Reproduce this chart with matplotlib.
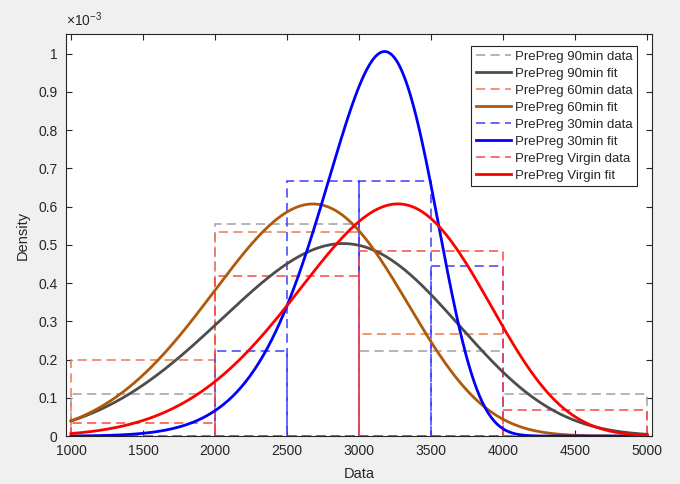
import matplotlib
matplotlib.use("Agg")
import matplotlib.pyplot as plt
import numpy as np
from matplotlib.lines import Line2D

plt.rcParams['font.family'] = ['Liberation Sans', 'DejaVu Sans']
plt.rcParams['mathtext.fontset'] = 'custom'
plt.rcParams['mathtext.rm'] = 'Liberation Sans'
plt.rcParams['mathtext.it'] = 'Liberation Sans'

# ---- data (densities in units of 1e-3) ----
labels = ['PrePreg 90min', 'PrePreg 60min', 'PrePreg 30min', 'PrePreg Virgin']

edges_90 = [1000, 2000, 3000, 4000, 5000]
dens_90 = [0.111, 0.556, 0.222, 0.111]

edges_60 = [1000, 2000, 3000, 4000, 5000]
dens_60 = [0.200, 0.533, 0.267, 0.0]

edges_30 = [2000, 2500, 3000, 3500, 4000]
dens_30 = [0.222, 0.667, 0.667, 0.444]

edges_v = [1000, 2000, 3000, 4000, 5000]
dens_v = [0.033, 0.420, 0.483, 0.067]

# Weibull fit parameters (scale, shape) estimated from the fitted curves
fit_scale = [3094, 2830, 3222, 3391]
fit_shape = [4.1, 4.55, 8.75, 5.5]

data_colors = ['#A0A0A0', '#EE7A4A', '#3D3DFF', '#FF4545']
fit_colors = ['#4D4D4D', '#B0590A', '#0000FF', '#FF0000']

edges_all = [edges_90, edges_60, edges_30, edges_v]
dens_all = [dens_90, dens_60, dens_30, dens_v]


def weibull_pdf(x, lam, k):
    return (k / lam) * (x / lam) ** (k - 1) * np.exp(-(x / lam) ** k)


fig = plt.figure(figsize=(6.8, 4.84), dpi=100, facecolor='#F0F0F0')
ax = fig.add_axes([0.097, 0.099, 0.862, 0.831])
ax.set_facecolor('white')

dash = (0, (6, 3.5))
xs = np.linspace(1000, 5000, 400)
handles = []
for i in range(4):
    e = np.array(edges_all[i], dtype=float)
    ax.bar(e[:-1], dens_all[i], width=np.diff(e), align='edge', fill=False,
           edgecolor=data_colors[i], linestyle=dash, linewidth=1.1, zorder=2)
    handles.append(Line2D([], [], color=data_colors[i], linestyle=dash,
                          linewidth=1.1, label=labels[i] + ' data'))
    ln, = ax.plot(xs, weibull_pdf(xs, fit_scale[i], fit_shape[i]) * 1000,
                  color=fit_colors[i], linewidth=2.0, zorder=3,
                  label=labels[i] + ' fit')
    handles.append(ln)

ax.set_xlim(965, 5035)
ax.set_ylim(0, 1.052)
ax.set_xticks(np.arange(1000, 5001, 500))
ax.set_yticks(np.arange(0, 1.01, 0.1))
ax.set_yticklabels(['0'] + ['%g' % v for v in np.round(np.arange(0.1, 1.01, 0.1), 1)])

txt_col = '#262626'
ax.tick_params(direction='in', top=True, right=True, length=4, width=0.8,
               colors='#262626', labelcolor=txt_col, labelsize=10)
ax.tick_params(axis='x', pad=6)
ax.tick_params(axis='y', pad=6)
for s in ax.spines.values():
    s.set_color('#262626')
    s.set_linewidth(0.8)

ax.set_xlabel('Data', fontsize=10.5, color=txt_col, labelpad=6)
ax.set_ylabel('Density', fontsize=10.5, color=txt_col, labelpad=6)
ax.text(0.0, 1.012, r'$\times10^{-3}$', transform=ax.transAxes,
        fontsize=10, color=txt_col, ha='left', va='bottom')

leg = ax.legend(handles=handles, loc='upper right', fontsize=9.5,
                bbox_to_anchor=(0.975, 0.97), fancybox=False, framealpha=1,
                edgecolor='#262626', handlelength=2.7, handletextpad=0.3,
                labelspacing=0.36, borderpad=0.35, borderaxespad=0)
leg.get_frame().set_linewidth(0.8)
for t in leg.get_texts():
    t.set_color(txt_col)

fig.savefig('out.png', dpi=100, facecolor=fig.get_facecolor())
